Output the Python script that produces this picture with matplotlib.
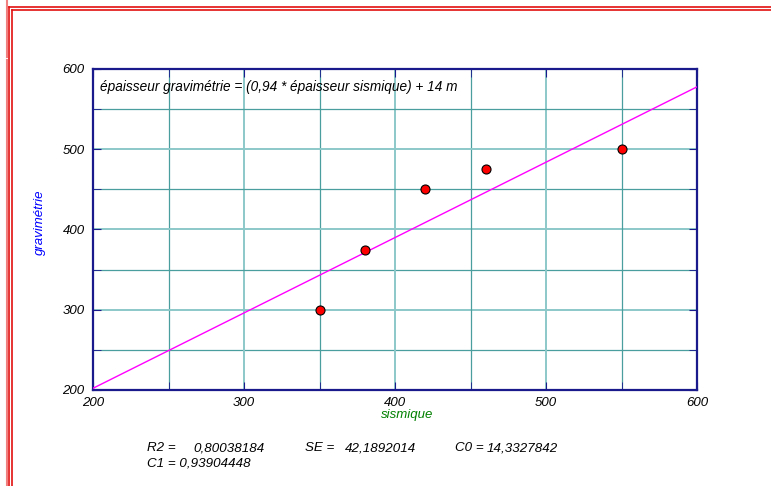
import numpy as np
import matplotlib
matplotlib.use('Agg')
import matplotlib.pyplot as plt
from matplotlib.lines import Line2D

plt.rcParams['font.family'] = ['Liberation Sans', 'DejaVu Sans']

# data
sismique = [350, 380, 420, 460, 550]
gravimetrie = [300, 375, 450, 475, 500]
c0 = 14.3327842
c1 = 0.93904448
fit_x = [200, 600]
xticks = [200, 300, 400, 500, 600]
yticks = [200, 300, 400, 500, 600]

W, H = 771, 486
fig = plt.figure(figsize=(W / 100, H / 100), dpi=100)
ax = fig.add_axes([93 / W, (H - 390) / H, 604 / W, 321 / H])

# grid
for v in range(200, 601, 50):
    col, lw = ('#8cc8c8', 1.4) if v % 100 == 0 else ('#4a9e9e', 0.9)
    ax.axvline(v, color=col, lw=lw, zorder=1)
    ax.axhline(v, color=col, lw=lw, zorder=1)

fit_y = [c0 + c1 * x for x in fit_x]
ax.plot(fit_x, fit_y, color='#ff00ff', lw=1, zorder=3)
ax.plot(sismique, gravimetrie, 'o', color='red', mec='black', mew=0.8,
        ms=6.5, zorder=4)

ax.set_xlim(200, 600)
ax.set_ylim(200, 600)
ax.set_xticks(xticks)
ax.set_yticks(yticks)
ax.set_xticks(range(250, 600, 100), minor=True)
ax.set_yticks(range(250, 600, 100), minor=True)
ax.set_xticklabels([str(t) for t in xticks], fontsize=9.5, style='italic')
ax.set_yticklabels([str(t) for t in yticks], fontsize=9.5, style='italic')
ax.tick_params(which='both', direction='in', color='#1a1a8c', length=6,
               top=True, right=True, pad=5)
ax.tick_params(axis='y', pad=6)
for s in ax.spines.values():
    s.set_color('#1a1a8c')
    s.set_linewidth(1.6)

fig.text(407 / W, 1 - 415 / H, 'sismique', color='green', fontsize=9.5,
         style='italic', ha='center', va='center')
fig.text(40 / W, 1 - 222 / H, 'gravimétrie', color='blue', fontsize=9.5,
         style='italic', rotation=90, ha='center', va='center')

ax.text(0.012, 0.945, 'épaisseur gravimétrie = (0,94 * épaisseur sismique) + 14 m',
        transform=ax.transAxes, fontsize=9.8, style='italic', va='center', zorder=5)

# stats
kw = dict(fontsize=9.6, style='italic', va='center')
fig.text(147 / W, 1 - 448 / H, 'R2 =', **kw)
fig.text(193 / W, 1 - 448 / H, '0,80038184', **kw)
fig.text(305 / W, 1 - 448 / H, 'SE =', **kw)
fig.text(345 / W, 1 - 448 / H, '42,1892014', **kw)
fig.text(455 / W, 1 - 448 / H, 'C0 =', **kw)
fig.text(487 / W, 1 - 448 / H, '14,3327842', **kw)
fig.text(147 / W, 1 - 463 / H, 'C1 = 0,93904448', **kw)

# red page border
def px_line(x0, y0, x1, y1, color, lw=1.2):
    fig.add_artist(Line2D([x0 / W, x1 / W], [1 - y0 / H, 1 - y1 / H],
                          transform=fig.transFigure, color=color, lw=lw))

px_line(9, 7, W, 7, '#e31010')
px_line(12, 10, W, 10, '#e31010')
px_line(9, 7, 9, H, '#e31010')
px_line(12, 10, 12, H, '#e31010')
px_line(6.5, 0, 6.5, 57, '#f08080', 1.5)
px_line(6.5, 60, 6.5, H, '#f08080', 1.5)

fig.savefig('out.png', dpi=100)
